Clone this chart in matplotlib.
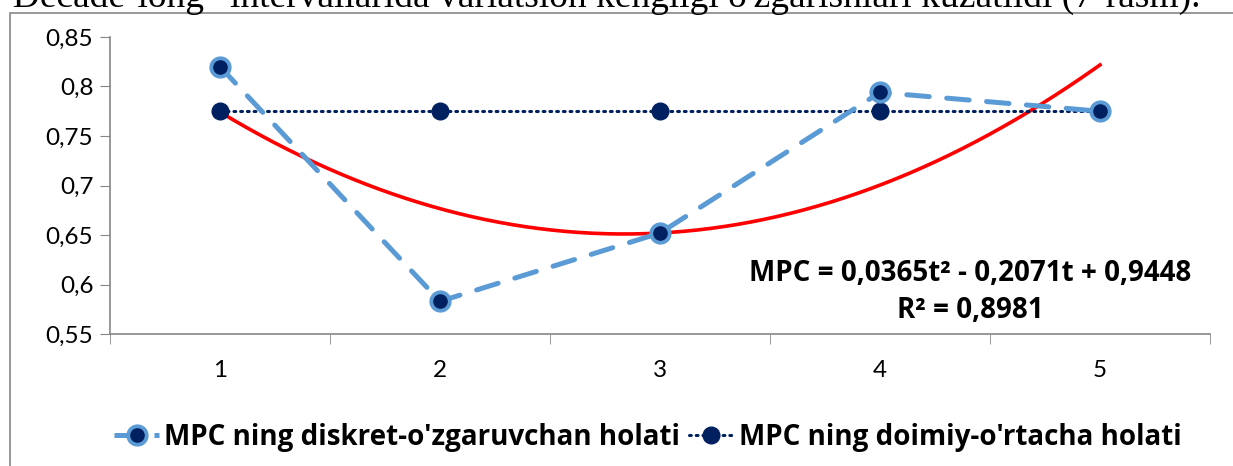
import numpy as np
import matplotlib
matplotlib.use('Agg')
import matplotlib.pyplot as plt
from matplotlib.patches import Rectangle
from matplotlib.lines import Line2D

plt.rcParams['font.family'] = ['Lato', 'DejaVu Sans']

# data
periods = [1, 2, 3, 4, 5]
mpc_discrete = [0.820, 0.583, 0.652, 0.794, 0.775]
mpc_const = [0.775, 0.775, 0.775, 0.775, 0.775]
trend_coef = [0.0365, -0.2071, 0.9448]
y_ticks = [0.55, 0.6, 0.65, 0.7, 0.75, 0.8, 0.85]
y_labels = ['0,55', '0,6', '0,65', '0,7', '0,75', '0,8', '0,85']
eq_text = 'MPC = 0,0365t\u00b2 - 0,2071t + 0,9448\nR\u00b2 = 0,8981'
lbl_discrete = "MPC ning diskret-o'zgaruvchan holati"
lbl_const = "MPC ning doimiy-o'rtacha holati"
top_text = "\u201cDecade-long\u201d intervallarida variatsion kengligi o'zgarishlari kuzatildi (7-rasm)."

light = '#5B9BD5'
navy = '#002060'
grey = '#868686'
bold_font = ['Open Sans', 'DejaVu Sans']

fig = plt.figure(figsize=(12.33, 4.66), dpi=100)

# chart frame (cut off at right / bottom like the screenshot)
fig.patches.append(Rectangle((10 / 1233, -0.1), 1.2, 1.1 - 13 / 466,
                             transform=fig.transFigure, fill=False,
                             edgecolor=grey, linewidth=1.2))
fig.text(-0.003, 1 - 7 / 466, top_text, fontfamily=['Liberation Serif'],
         fontsize=27, ha='left', va='baseline')

ax = fig.add_axes([110 / 1233, 1 - 334 / 466, 1100 / 1233, 297 / 466])

t = np.linspace(1, 5, 200)
ax.plot(t, np.polyval(trend_coef, t), color='#FF0000', lw=2.6, zorder=2)

ax.plot(periods, mpc_const, color=navy, lw=2.2, ls=(0, (0.6, 1.6)),
        dash_capstyle='round', zorder=3)
ax.plot(periods, mpc_const, ls='none', marker='o', ms=12, color=navy, zorder=4)

ax.plot(periods, mpc_discrete, color=light, lw=3.6, ls=(0, (4.5, 3.5)),
        dash_capstyle='round', zorder=5)
ax.plot(periods, mpc_discrete, ls='none', marker='o', ms=15, mfc=light,
        mec=light, zorder=6)
ax.plot(periods, mpc_discrete, ls='none', marker='o', ms=9.5, color=navy, zorder=7)

ax.set_xlim(0.5, 5.5)
ax.set_ylim(0.55, 0.85)
ax.set_yticks(y_ticks)
ax.set_yticklabels(y_labels)
ax.set_xticks(periods)
ax.set_xticks(np.arange(0.5, 6.0, 1.0), minor=True)
ax.tick_params(axis='x', which='major', length=0, pad=19, labelsize=17.5)
ax.tick_params(axis='x', which='minor', length=7, color=grey, direction='out')
ax.tick_params(axis='y', length=7, color=grey, pad=5, labelsize=17.5)
for s in ['top', 'right']:
    ax.spines[s].set_visible(False)
for s in ['left', 'bottom']:
    ax.spines[s].set_color(grey)
    ax.spines[s].set_linewidth(1.2)

fig.text(970 / 1233, 1 - 292 / 466, eq_text, fontfamily=bold_font,
         ha='center', va='center', fontsize=20, fontweight='bold',
         linespacing=1.4)

h1 = (Line2D([], [], color=light, lw=3.6, ls=(0, (4.5, 3.5))),
      Line2D([], [], ls='none', marker='o', ms=15, color=light),
      Line2D([], [], ls='none', marker='o', ms=9.5, color=navy))
h2 = (Line2D([], [], color=navy, lw=2.2, ls=(0, (0.6, 1.6)), dash_capstyle='round'),
      Line2D([], [], ls='none', marker='o', ms=12, color=navy))
fig.legend([h1, h2], [lbl_discrete, lbl_const], loc='center',
           bbox_to_anchor=(648 / 1233, 1 - 437 / 466), ncol=2, frameon=False,
           prop={'family': bold_font, 'size': 20, 'weight': 'bold'},
           handlelength=1.6, handletextpad=0.2, columnspacing=0.3)

fig.savefig('out.png', dpi=100)
